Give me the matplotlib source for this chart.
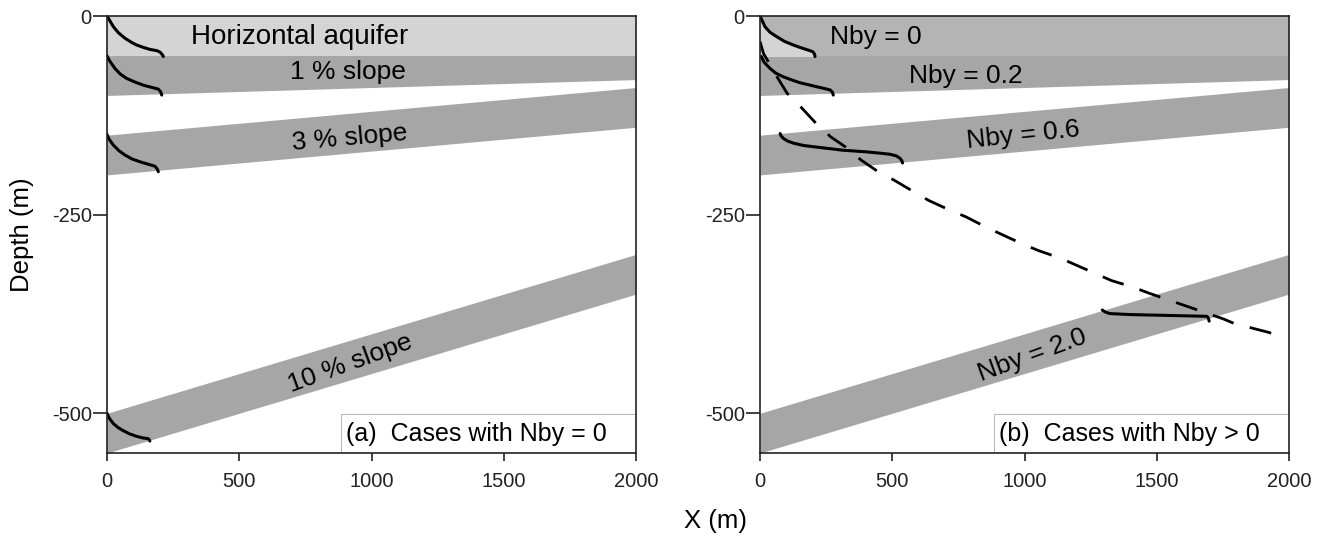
import matplotlib
matplotlib.use("Agg")
import matplotlib.pyplot as plt
from matplotlib.patches import Rectangle
import numpy as np

plt.rcParams['font.family'] = ['Liberation Sans', 'DejaVu Sans']
plt.rcParams['axes.unicode_minus'] = False

# aquifer bands: depth of the top at x = 0 (m), slope (%), thickness (m)
band_top0 = [-50, -150, -500]
band_slope = [1, 3, 10]
band_thick = 50
flat_top, flat_bottom = 0, -50
x_ends = np.array([0, 2000])

# interface profiles, panel (a)
a_flat_x = [0, 9, 24, 43, 68, 93, 112, 137, 162, 188, 200, 210, 213]
a_flat_y = [0, -5, -13.4, -21, -28, -33.2, -36.5, -39.5, -42, -43.6, -45.3, -49, -51]
a_s1_x = [0, 9, 30, 50, 74, 105, 137, 165, 194, 203, 207]
a_s1_y = [-50, -56, -66, -73, -78.5, -83, -87, -89.5, -92, -95.5, -99.5]
a_s3_x = [0, 8, 24, 45, 68, 95, 125, 155, 181, 190, 194]
a_s3_y = [-149, -155, -162.5, -169.5, -175, -180, -183.5, -186.5, -189, -192.5, -196]
a_s10_x = [0, 8, 24, 42, 62, 86, 112, 135, 156, 160, 162]
a_s10_y = [-500, -506, -513, -518, -522, -526, -529, -531, -532, -533.5, -535]

# interface profiles, panel (b)
b_n0_x = [0, 7, 19, 38, 63, 93, 126, 155, 183, 200, 206, 208]
b_n0_y = [0, -5, -13.5, -20.5, -26, -32, -36.5, -40, -43, -45, -48, -51]
b_n02_x = [5, 15, 38, 60, 88, 120, 151, 183, 214, 240, 265, 274, 277]
b_n02_y = [-51, -58, -66, -72, -76.5, -80.5, -84, -86.5, -89, -91, -93, -96, -99.5]
b_n06_x = [76, 80, 88, 105, 126, 165, 214, 265, 315, 360, 403, 450, 491, 515, 529, 536, 539]
b_n06_y = [-148, -151, -154, -157.5, -160, -163, -165, -167, -169, -170, -171, -172.5, -174, -176, -179, -182, -185]
b_n2_x = [1294, 1305, 1322, 1400, 1493, 1600, 1690, 1696, 1698]
b_n2_y = [-370, -372.5, -374.5, -375.8, -376.5, -377.3, -378, -381, -384]

# dashed curve, panel (b)
dash_x = [0, 13, 67, 102, 153, 217, 267, 324, 381, 438, 509, 580, 637, 702,
          780, 850, 908, 986, 1051, 1137, 1329, 1408, 1472, 1550, 1750, 1793,
          1921, 1978]
dash_y = [-32, -47, -78, -97, -114, -137, -152, -165, -181, -194, -207, -221,
          -232, -242, -253, -265, -274, -286, -295, -305, -333, -341, -349,
          -358, -381, -387, -398, -404]

a_labels = ["1 % slope", "3 % slope", "10 % slope"]
b_labels = ["Nby = 0.2", "Nby = 0.6", "Nby = 2.0"]

light = '#d4d4d4'
mid = '#b4b4b4'
dark = '#a6a6a6'

W, H = 1329, 539
fig = plt.figure(figsize=(W / 100, H / 100), dpi=100)
ax1 = fig.add_axes([107 / W, 1 - 453 / H, 529 / W, 437 / H])
ax2 = fig.add_axes([760 / W, 1 - 453 / H, 529 / W, 437 / H])


def draw_bands(ax, top_color):
    for top0, s in zip(band_top0, band_slope):
        top = top0 + s / 100 * x_ends
        ax.fill_between(x_ends, top - band_thick, top, color=dark, lw=0, zorder=1)
    ax.fill_between(x_ends, flat_bottom, flat_top, color=top_color, lw=0, zorder=2)


def style(ax, tag):
    ax.set_xlim(0, 2000)
    ax.set_ylim(-550, 0)
    ax.set_xticks([0, 500, 1000, 1500, 2000])
    ax.set_yticks([0, -250, -500])
    for sp in ax.spines.values():
        sp.set_linewidth(1.2)
        sp.set_color('#222222')
        sp.set_zorder(10)
    ax.tick_params(axis='x', length=6, width=1.2, pad=8, labelsize=14.5, colors='#222222')
    ax.tick_params(axis='y', length=10, width=1.2, pad=1, labelsize=14.5, colors='#222222')
    ax.add_patch(Rectangle((0.4415, 0), 0.5585, 0.089, transform=ax.transAxes,
                           fc='white', ec='#b8b8b8', lw=0.8, zorder=5))
    ax.text(0.452, 0.043, tag, transform=ax.transAxes, fontsize=18,
            va='center', ha='left', zorder=6)


curve_kw = dict(color='black', lw=2.2, solid_capstyle='round',
                solid_joinstyle='round', zorder=4)

# panel (a)
draw_bands(ax1, light)
for cx, cy in [(a_flat_x, a_flat_y), (a_s1_x, a_s1_y), (a_s3_x, a_s3_y), (a_s10_x, a_s10_y)]:
    ax1.plot(cx, cy, **curve_kw)
ax1.text(729, -26, "Horizontal aquifer", fontsize=20, ha='center', va='center', zorder=3)
ax1.text(912, -71, a_labels[0], fontsize=19, ha='center', va='center', zorder=3)
ax1.text(918, -153, a_labels[1], fontsize=19, ha='center', va='center', rotation=5, zorder=3)
ax1.text(918, -437, a_labels[2], fontsize=19, ha='center', va='center', rotation=20, zorder=3)
style(ax1, "(a)  Cases with Nby = 0")

# panel (b)
draw_bands(ax2, mid)
ax2.fill_betweenx(b_n0_y, 0, b_n0_x, color=light, lw=0, zorder=2.5)
for cx, cy in [(b_n0_x, b_n0_y), (b_n02_x, b_n02_y), (b_n06_x, b_n06_y), (b_n2_x, b_n2_y)]:
    ax2.plot(cx, cy, **curve_kw)
ax2.plot(dash_x, dash_y, color='black', lw=2.0, dashes=(8, 6), zorder=4)
ax2.text(438, -26, "Nby = 0", fontsize=19, ha='center', va='center', zorder=3)
ax2.text(780, -76, b_labels[0], fontsize=19, ha='center', va='center', zorder=3)
ax2.text(994, -150, b_labels[1], fontsize=19, ha='center', va='center', rotation=6, zorder=3)
ax2.text(1030, -427, b_labels[2], fontsize=19, ha='center', va='center', rotation=20, zorder=3)
style(ax2, "(b)  Cases with Nby > 0")

fig.text(22 / W, 1 - 235 / H, "Depth (m)", rotation=90, fontsize=18.5,
         ha='center', va='center')
fig.text(716 / W, 1 - 521 / H, "X (m)", fontsize=18.5, ha='center', va='center')

fig.savefig("out.png", dpi=100)
